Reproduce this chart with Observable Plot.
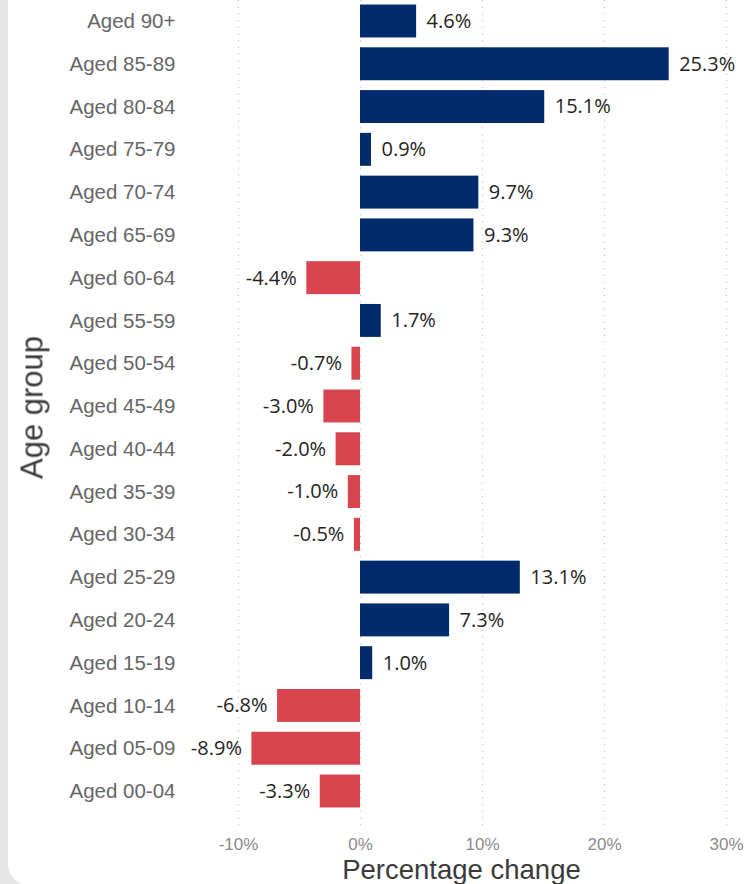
<!DOCTYPE html>
<html>
<head>
<meta charset="utf-8">
<script src="https://cdn.jsdelivr.net/npm/d3@7"></script>
<script src="https://cdn.jsdelivr.net/npm/@observablehq/plot@0.6"></script>
<style>
  html, body { margin: 0; padding: 0; background: #e6e6e6; overflow: hidden; width: 746px; height: 884px; }
  #card { position: absolute; left: 8px; top: -40px; width: 800px; height: 926px; background: #fff; border-radius: 22px; }
  #chart { position: absolute; left: 0; top: 0; }
  #chart svg { background: transparent; }
</style>
</head>
<body>
<div id="card"></div>
<div id="chart"></div>
<script>
const groups = ["Aged 90+","Aged 85-89","Aged 80-84","Aged 75-79","Aged 70-74","Aged 65-69","Aged 60-64","Aged 55-59","Aged 50-54","Aged 45-49","Aged 40-44","Aged 35-39","Aged 30-34","Aged 25-29","Aged 20-24","Aged 15-19","Aged 10-14","Aged 05-09","Aged 00-04"];
const values = [4.6, 25.3, 15.1, 0.9, 9.7, 9.3, -4.4, 1.7, -0.7, -3.0, -2.0, -1.0, -0.5, 13.1, 7.3, 1.0, -6.8, -8.9, -3.3];
const xTicks = [-10, 0, 10, 20, 30];
const xTitle = "Percentage change";
const yTitle = "Age group";

const data = groups.map((g, i) => ({group: g, value: values[i]}));
const pos = data.filter(d => d.value >= 0);
const neg = data.filter(d => d.value < 0);
const fmt = d => d.value.toFixed(1) + "%";

const chart = Plot.plot({
  width: 746,
  height: 884,
  marginTop: 0,
  marginBottom: 56,
  marginLeft: 238,
  marginRight: 20,
  style: {fontFamily: "'Liberation Sans', Arial, sans-serif", background: "transparent"},
  x: {domain: [-10, 30]},
  y: {domain: groups, range: [-0.4, 812.4], paddingInner: 0.23, paddingOuter: 0.115, round: false},
  marks: [
    Plot.ruleX(xTicks, {stroke: "#c4c4c4", strokeWidth: 1.2, strokeDasharray: "1.2,5.5"}),
    Plot.barX(data, {x: "value", y: "group", fill: d => d.value >= 0 ? "#012b6c" : "#d8454f"}),
    Plot.text(pos, {x: "value", y: "group", text: fmt, textAnchor: "start", dx: 10, fontSize: 20, fill: "#252423", fontFamily: "'Open Sans', sans-serif"}),
    Plot.text(neg, {x: "value", y: "group", text: fmt, textAnchor: "end", dx: -10, fontSize: 20, fill: "#252423", fontFamily: "'Open Sans', sans-serif"}),
    Plot.axisY({tickSize: 0, tickPadding: 63, fontSize: 20.5, fill: "#666", label: null}),
    Plot.axisX({ticks: xTicks, tickFormat: d => d + "%", tickSize: 0, tickPadding: 9, fontSize: 17, fill: "#8a8a8a", label: null}),
    Plot.text([xTitle], {frameAnchor: "bottom", textAnchor: "middle", lineAnchor: "middle", dx: -21, dy: 41.5, fontSize: 27.5, fill: "#3a3a3a"}),
    Plot.text([yTitle], {frameAnchor: "left", textAnchor: "middle", lineAnchor: "middle", rotate: -90, dx: -206, dy: -7, fontSize: 31, fill: "#3a3a3a"})
  ]
});
document.getElementById("chart").appendChild(chart);
</script>
</body>
</html>
